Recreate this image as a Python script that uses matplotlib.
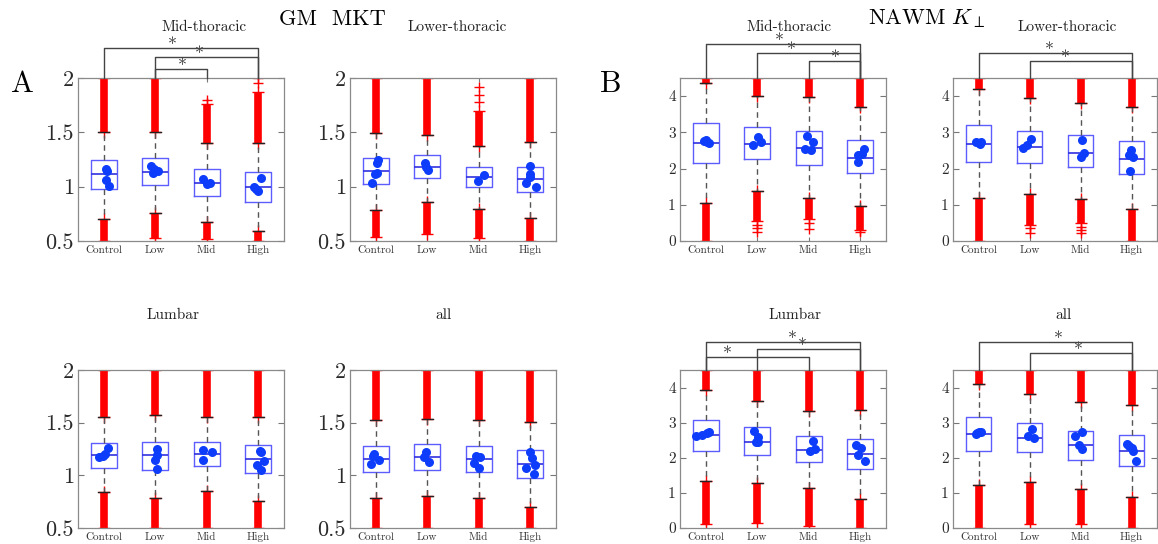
import matplotlib
matplotlib.use("Agg")
import matplotlib.pyplot as plt

plt.rcParams['font.family'] = ['cmr10', 'DejaVu Serif']
plt.rcParams['mathtext.fontset'] = 'cm'
plt.rcParams['axes.unicode_minus'] = False
plt.rcParams['axes.formatter.use_mathtext'] = True

groups = ['Control', 'Low', 'Mid', 'High']

# box stats per group: (lower whisker, q1, median, q3, upper whisker)
# GM MKT - Mid-thoracic
gm_mid_box = [(0.700, 0.974, 1.113, 1.242, 1.507), (0.762, 1.011, 1.131, 1.261, 1.507),
              (0.676, 0.916, 1.033, 1.159, 1.406), (0.589, 0.857, 1.000, 1.131, 1.406)]
gm_mid_out = [(0.50, 2.00), (0.53, 2.00), (0.52, 1.76), (0.50, 1.87)]
gm_mid_sparse = [[], [], [1.80], [1.95, 2.00]]
gm_mid_dots = [[1.159, 1.147, 1.061, 1.005], [1.191, 1.129, 1.147, 1.160],
               [1.067, 1.024, 1.036], [1.076, 0.993, 0.959, 0.975]]
gm_mid_dx = [[0.04, 0.065, 0.04, 0.10], [-0.09, -0.045, 0.06, -0.02],
             [-0.08, 0.0, 0.065], [0.05, -0.085, 0.0, -0.04]]
gm_mid_sig = [(1, 4, 2.277, 2.34), (2, 4, 2.194, 2.86), (2, 3, 2.083, 2.53)]

# GM MKT - Lower-thoracic
gm_low_box = [(0.788, 1.027, 1.144, 1.260, 1.497), (0.860, 1.076, 1.178, 1.288, 1.480),
              (0.790, 0.993, 1.088, 1.180, 1.370), (0.715, 0.953, 1.067, 1.184, 1.410)]
gm_low_out = [(0.54, 2.00), (0.56, 2.00), (0.53, 1.70), (0.50, 2.00)]
gm_low_sparse = [[], [], [1.78, 1.84, 1.92], []]
gm_low_dots = [[1.25, 1.22, 1.13, 1.12, 1.03], [1.22, 1.18, 1.15],
               [1.11, 1.05], [1.19, 1.12, 1.09, 1.03, 1.00]]
gm_low_dx = [[0.045, 0.03, 0.015, -0.02, -0.065], [-0.05, -0.02, 0.02],
             [0.10, -0.02], [0.0, 0.0, 0.0, -0.08, 0.12]]
gm_low_sig = []

# GM MKT - Lumbar
gm_lum_box = [(0.838, 1.068, 1.195, 1.305, 1.552), (0.787, 1.050, 1.192, 1.315, 1.577),
              (0.850, 1.090, 1.204, 1.320, 1.550), (0.759, 1.021, 1.154, 1.286, 1.550)]
gm_lum_out = [(0.50, 2.00), (0.50, 2.00), (0.50, 2.00), (0.50, 2.00)]
gm_lum_sparse = [[], [], [], []]
gm_lum_dots = [[1.173, 1.185, 1.204, 1.258], [1.25, 1.195, 1.147, 1.06],
               [1.242, 1.217, 1.147], [1.233, 1.225, 1.14, 1.10, 1.05]]
gm_lum_dx = [[-0.10, -0.02, 0.03, 0.08], [0.03, 0.03, 0.0, 0.03],
             [-0.07, 0.10, -0.08], [0.03, 0.06, 0.12, -0.03, 0.05]]
gm_lum_sig = []

# GM MKT - all
gm_all_box = [(0.784, 1.031, 1.157, 1.280, 1.526), (0.800, 1.046, 1.170, 1.293, 1.538),
              (0.784, 1.031, 1.157, 1.280, 1.526), (0.702, 0.970, 1.110, 1.236, 1.510)]
gm_all_out = [(0.50, 2.00), (0.50, 2.00), (0.50, 2.00), (0.50, 2.00)]
gm_all_sparse = [[], [], [], []]
gm_all_dots = [[1.204, 1.18, 1.147, 1.106], [1.223, 1.173, 1.122],
               [1.185, 1.173, 1.116, 1.065], [1.223, 1.163, 1.10, 1.072, 1.015]]
gm_all_dx = [[-0.03, -0.06, 0.06, -0.10], [-0.02, -0.07, 0.03],
             [-0.05, 0.02, -0.09, 0.0], [0.0, 0.04, 0.10, -0.08, 0.07]]
gm_all_sig = []

# NAWM K_perp - Mid-thoracic
wm_mid_box = [(1.06, 2.15, 2.70, 3.26, 4.37), (1.39, 2.27, 2.68, 3.15, 4.00),
              (1.18, 2.10, 2.56, 3.03, 3.97), (0.96, 1.87, 2.29, 2.78, 3.70)]
wm_mid_out = [(0.00, 4.50), (0.55, 4.50), (0.60, 4.50), (0.30, 4.50)]
wm_mid_sparse = [[], [0.45, 0.35, 0.25], [0.50, 0.32], [0.25]]
wm_mid_dots = [[2.75, 2.78, 2.72, 2.70], [2.66, 2.86, 2.72],
               [2.91, 2.73, 2.55, 2.50], [2.38, 2.55, 2.17, 2.41]]
wm_mid_dx = [[-0.03, 0.0, 0.03, 0.06], [-0.08, 0.01, 0.08],
             [-0.04, 0.08, -0.07, 0.04], [-0.05, 0.08, -0.05, 0.03]]
wm_mid_sig = [(1, 4, 5.44, 2.42), (2, 4, 5.19, 2.67), (3, 4, 4.98, 3.51)]

# NAWM K_perp - Lower-thoracic
wm_low_box = [(1.19, 2.18, 2.69, 3.19, 4.20), (1.29, 2.16, 2.60, 3.05, 3.94),
              (1.15, 2.04, 2.44, 2.93, 3.81), (0.89, 1.84, 2.26, 2.75, 3.69)]
wm_low_out = [(0.00, 4.50), (0.45, 4.50), (0.50, 4.50), (0.00, 4.50)]
wm_low_sparse = [[], [0.35, 0.22], [0.40, 0.30, 0.22], []]
wm_low_dots = [[2.74, 2.70, 2.68, 2.72], [2.56, 2.66, 2.81],
               [2.80, 2.33, 2.43], [2.50, 2.38, 2.33, 1.92]]
wm_low_dx = [[-0.05, 0.0, 0.03, 0.05], [-0.12, -0.05, 0.03],
             [0.03, 0.0, 0.06], [-0.01, -0.05, 0.03, -0.03]]
wm_low_sig = [(1, 4, 5.20, 2.38), (2, 4, 4.97, 2.71)]

# NAWM K_perp - Lumbar
wm_lum_box = [(1.33, 2.20, 2.64, 3.07, 3.94), (1.28, 2.07, 2.46, 2.87, 3.61),
              (1.14, 1.88, 2.22, 2.62, 3.34), (0.84, 1.69, 2.12, 2.54, 3.37)]
wm_lum_out = [(0.10, 4.50), (0.15, 4.50), (0.05, 4.50), (0.00, 4.50)]
wm_lum_sparse = [[], [], [], []]
wm_lum_dots = [[2.61, 2.66, 2.71, 2.73], [2.76, 2.58, 2.44, 2.46],
               [2.49, 2.25, 2.18], [2.36, 2.28, 2.09, 1.90]]
wm_lum_dx = [[-0.18, -0.07, 0.02, 0.06], [-0.06, 0.01, 0.01, -0.03],
             [0.08, 0.12, 0.02], [-0.09, 0.01, -0.05, 0.09]]
wm_lum_sig = [(1, 4, 5.31, 2.69), (2, 4, 5.09, 2.87), (1, 3, 4.86, 1.41)]

# NAWM K_perp - all
wm_all_box = [(1.22, 2.19, 2.67, 3.16, 4.11), (1.30, 2.16, 2.57, 2.99, 3.83),
              (1.12, 1.95, 2.35, 2.77, 3.58), (0.88, 1.76, 2.19, 2.65, 3.50)]
wm_all_out = [(0.00, 4.50), (0.12, 4.50), (0.10, 4.50), (0.00, 4.50)]
wm_all_sparse = [[], [], [], []]
wm_all_dots = [[2.68, 2.70, 2.72, 2.74], [2.82, 2.61, 2.55],
               [2.61, 2.73, 2.36, 2.25], [2.38, 2.33, 2.28, 2.19, 1.91]]
wm_all_dx = [[-0.05, -0.02, 0.01, 0.04], [0.04, -0.03, 0.08],
             [-0.10, 0.03, -0.02, 0.02], [-0.08, -0.05, 0.0, 0.03, 0.08]]
wm_all_sig = [(1, 4, 5.31, 2.56), (2, 4, 4.97, 2.95)]

W, H = 1158, 544
fig = plt.figure(figsize=(W / 100, H / 100), dpi=100)


def rect(l, t, r, b):
    return [l / W, 1 - b / H, (r - l) / W, (b - t) / H]


def panel(pos, box, out, sparse, dots, dx, sig, ylim, yticks, ylabels, yfs):
    ax = fig.add_axes(rect(*pos))
    x = [1, 2, 3, 4]
    stats = [dict(whislo=b[0], q1=b[1], med=b[2], q3=b[3], whishi=b[4]) for b in box]
    # red outlier bands (dense '+' markers)
    for k in range(4):
        lo, hi = out[k]
        ax.vlines(x[k], lo, box[k][0], color='red', lw=5.5, zorder=2)
        ax.vlines(x[k], box[k][4], hi, color='red', lw=5.5, zorder=2)
        ax.plot([x[k]] * 4, [lo, box[k][0], box[k][4], hi], '+', color='red',
                ms=8, mew=1, zorder=2)
        if sparse[k]:
            ax.plot([x[k]] * len(sparse[k]), sparse[k], '+', color='red',
                    ms=7, mew=1, zorder=2)
    ax.bxp(stats, positions=x, widths=0.5, showfliers=False, capwidths=0.22,
           boxprops=dict(color='#5c5cff', lw=1.0),
           medianprops=dict(color='#3030e0', lw=1.2),
           whiskerprops=dict(color='#555555', lw=1.0, linestyle=(0, (4, 3))),
           capprops=dict(color='#222222', lw=1.0), zorder=3)
    for k in range(4):
        ax.plot([x[k] + d for d in dx[k]], dots[k], 'o', color='#0d3dfa',
                ms=6.5, mew=0, zorder=4)
    ax.set_xlim(0.5, 4.5)
    ax.set_ylim(*ylim)
    ax.set_xticks(x)
    ax.set_xticklabels(groups, fontsize=8, color='#333333')
    ax.set_yticks(yticks)
    ax.set_yticklabels(ylabels, fontsize=yfs, color='#2a2a2a')
    ax.tick_params(axis='y', direction='in', right=True, length=4, color='#777777', pad=3)
    ax.tick_params(axis='x', direction='in', top=True, length=3, color='#777777', pad=3)
    for s in ax.spines.values():
        s.set_color('#8a8a8a')
        s.set_linewidth(0.9)
    top = ylim[1]
    for i, j, lev, sx in sig:
        ax.plot([i, i, j, j], [top, lev, lev, top], color='#444444', lw=1.0,
                clip_on=False, zorder=5)
        ax.annotate('*', (sx, lev), xytext=(0, -1.5), textcoords='offset points',
                    ha='center', va='baseline', fontsize=13, color='#333333',
                    annotation_clip=False)
    return ax


a_ticks = [0.5, 1, 1.5, 2]
a_labels = ['0.5', '1', '1.5', '2']
b_ticks = [0, 1, 2, 3, 4]
b_labels = ['0', '1', '2', '3', '4']

panel((78, 78, 284, 241), gm_mid_box, gm_mid_out, gm_mid_sparse, gm_mid_dots, gm_mid_dx,
      gm_mid_sig, (0.5, 2.0), a_ticks, a_labels, 16)
panel((350, 78, 556, 241), gm_low_box, gm_low_out, gm_low_sparse, gm_low_dots, gm_low_dx,
      gm_low_sig, (0.5, 2.0), a_ticks, a_labels, 16)
panel((78, 370, 284, 528), gm_lum_box, gm_lum_out, gm_lum_sparse, gm_lum_dots, gm_lum_dx,
      gm_lum_sig, (0.5, 2.0), a_ticks, a_labels, 16)
panel((350, 370, 556, 528), gm_all_box, gm_all_out, gm_all_sparse, gm_all_dots, gm_all_dx,
      gm_all_sig, (0.5, 2.0), a_ticks, a_labels, 16)
panel((680, 78, 886, 241), wm_mid_box, wm_mid_out, wm_mid_sparse, wm_mid_dots, wm_mid_dx,
      wm_mid_sig, (0, 4.5), b_ticks, b_labels, 11)
panel((953, 78, 1157, 241), wm_low_box, wm_low_out, wm_low_sparse, wm_low_dots, wm_low_dx,
      wm_low_sig, (0, 4.5), b_ticks, b_labels, 11)
panel((680, 370, 886, 528), wm_lum_box, wm_lum_out, wm_lum_sparse, wm_lum_dots, wm_lum_dx,
      wm_lum_sig, (0, 4.5), b_ticks, b_labels, 11)
panel((953, 370, 1157, 528), wm_all_box, wm_all_out, wm_all_sparse, wm_all_dots, wm_all_dx,
      wm_all_sig, (0, 4.5), b_ticks, b_labels, 11)


def ftext(x, y, s, **kw):
    fig.text(x / W, 1 - y / H, s, ha='center', va='center', **kw)


for s, x, y in [('Mid-thoracic', 204, 27), ('Lower-thoracic', 457, 27),
                ('Lumbar', 173, 315), ('all', 443, 315),
                ('Mid-thoracic', 789, 27), ('Lower-thoracic', 1067, 27),
                ('Lumbar', 795, 315), ('all', 1064, 315)]:
    ftext(x, y, s, fontsize=11, color='#222222')

ftext(332, 19, 'GM  MKT', fontsize=16)
ftext(927, 19, r'NAWM $K_\perp$', fontsize=16)
ftext(22, 84, 'A', fontsize=22)
ftext(611, 84, 'B', fontsize=22)

fig.savefig('out.png', dpi=100)
